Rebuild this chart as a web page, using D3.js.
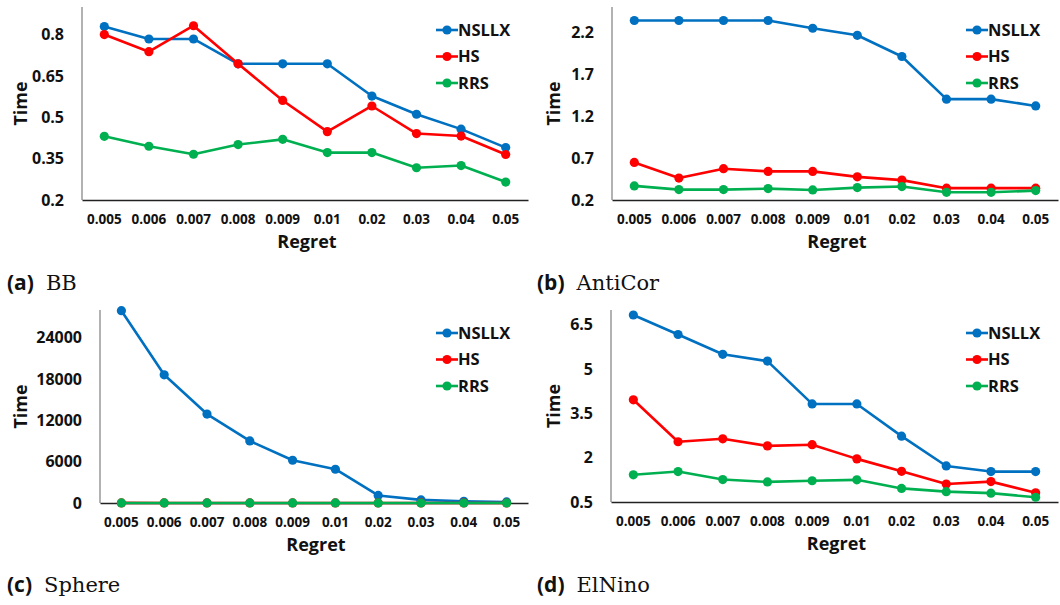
<!DOCTYPE html>
<html>
<head>
<meta charset="utf-8">
<script src="https://cdn.jsdelivr.net/npm/d3@7"></script>
<style>
  body { margin: 0; background: #fff; }
  text { font-family: "Open Sans", sans-serif; font-weight: bold; fill: #111; }
  .caption-tag { font-family: "Open Sans", sans-serif; font-weight: bold; font-size: 21px; }
  .caption-name { font-family: "DejaVu Serif", "Liberation Serif", serif; font-weight: normal; font-size: 21px; }
</style>
</head>
<body>
<script>
// regret categories shared by all four panels
var regrets = ["0.005", "0.006", "0.007", "0.008", "0.009", "0.01", "0.02", "0.03", "0.04", "0.05"];
var seriesNames = ["NSLLX", "HS", "RRS"];
var seriesColors = ["#0070C0", "#FF0000", "#00B050"];

// (a) BB
var bbNSLLX = [0.829, 0.784, 0.784, 0.694, 0.694, 0.694, 0.577, 0.511, 0.457, 0.390];
var bbHS    = [0.800, 0.738, 0.832, 0.694, 0.561, 0.448, 0.541, 0.441, 0.432, 0.365];
var bbRRS   = [0.431, 0.395, 0.366, 0.401, 0.420, 0.372, 0.372, 0.317, 0.325, 0.265];
var bbTicks = [0.2, 0.35, 0.5, 0.65, 0.8];

// (b) AntiCor
var acNSLLX = [2.339, 2.339, 2.339, 2.339, 2.247, 2.163, 1.910, 1.402, 1.402, 1.321];
var acHS    = [0.648, 0.461, 0.573, 0.541, 0.541, 0.476, 0.437, 0.341, 0.341, 0.341];
var acRRS   = [0.368, 0.324, 0.324, 0.336, 0.320, 0.348, 0.360, 0.292, 0.292, 0.312];
var acTicks = [0.2, 0.7, 1.2, 1.7, 2.2];

// (c) Sphere
var spNSLLX = [27900, 18600, 12900, 9000, 6200, 4900, 1100, 450, 250, 150];
var spHS    = [12, 10, 9, 8, 7, 6, 5, 4, 4, 3];
var spRRS   = [10, 9, 8, 7, 6, 5, 4, 3, 3, 2];
var spTicks = [0, 6000, 12000, 18000, 24000];

// (d) ElNino
var enNSLLX = [6.83, 6.17, 5.50, 5.27, 3.82, 3.82, 2.73, 1.72, 1.53, 1.53];
var enHS    = [3.96, 2.54, 2.64, 2.40, 2.44, 1.96, 1.54, 1.11, 1.19, 0.81];
var enRRS   = [1.42, 1.53, 1.26, 1.18, 1.22, 1.25, 0.96, 0.85, 0.80, 0.66];
var enTicks = [0.5, 2, 3.5, 5, 6.5];

var svg = d3.select("body").append("svg")
    .attr("width", 1060)
    .attr("height", 605);

var panels = [
    { ox: 0,   oy: 0,   left: 82,  top: 7,  bottom: 200, right: 528, domain: [0.2, 0.9], ticks: bbTicks,
      series: [bbNSLLX, bbHS, bbRRS], tag: "(a)", name: "BB", legendY: 30, timeX: 21, capY: 290 },
    { ox: 530, oy: 0,   left: 82,  top: 7,  bottom: 200, right: 528, domain: [0.2, 2.5], ticks: acTicks,
      series: [acNSLLX, acHS, acRRS], tag: "(b)", name: "AntiCor", legendY: 30, timeX: 24, capY: 290 },
    { ox: 0,   oy: 295, left: 100, top: 15, bottom: 208, right: 528, domain: [0, 28000], ticks: spTicks,
      series: [spNSLLX, spHS, spRRS], tag: "(c)", name: "Sphere", legendY: 38, timeX: 21, capY: 297 },
    { ox: 530, oy: 295, left: 81,  top: 15, bottom: 207, right: 528, domain: [0.5, 7], ticks: enTicks,
      series: [enNSLLX, enHS, enRRS], tag: "(d)", name: "ElNino", legendY: 38, timeX: 24, capY: 297 }
];

panels.forEach(function (p) {
    var g = svg.append("g").attr("transform", `translate(${p.ox}, ${p.oy})`);

    var x = d3.scaleBand()
        .domain(regrets)
        .range([p.left, p.right]);

    var y = d3.scaleLinear()
        .domain(p.domain)
        .range([p.bottom, p.top]);

    // y axis: labels only, line drawn separately in grey
    var yAxis = g.append("g")
        .attr("transform", `translate(${p.left}, 0)`)
        .call(d3.axisLeft(y).tickValues(p.ticks).tickSize(0).tickPadding(18).tickFormat(d => String(d)));
    yAxis.select(".domain").remove();
    yAxis.selectAll("text").style("font-size", "16px").style("font-family", "'Open Sans', sans-serif");
    g.append("line")
        .attr("x1", p.left).attr("x2", p.left)
        .attr("y1", p.top).attr("y2", p.bottom)
        .attr("stroke", "#7f7f7f").attr("stroke-width", 1.2);

    // x axis
    var xAxis = g.append("g")
        .attr("transform", `translate(0, ${p.bottom})`)
        .call(d3.axisBottom(x).tickSize(0).tickPadding(14));
    xAxis.select(".domain").attr("stroke", "#222").attr("stroke-width", 1.3);
    xAxis.selectAll("text").style("font-size", "13.5px").style("font-family", "'Open Sans', sans-serif");

    // axis titles
    g.append("text")
        .attr("x", (p.left + p.right) / 2 + 2)
        .attr("y", p.bottom + 48)
        .attr("text-anchor", "middle")
        .style("font-size", "18px")
        .text("Regret");

    g.append("text")
        .attr("transform", `translate(${p.timeX}, ${(p.top + p.bottom) / 2}) rotate(-90)`)
        .attr("text-anchor", "middle")
        .attr("dy", "0.35em")
        .style("font-size", "18px")
        .text("Time");

    var line = d3.line()
        .x((d, i) => x(regrets[i]) + x.bandwidth() / 2)
        .y(d => y(d));

    // series order as in the legend, RRS ends on top
    [0, 1, 2].forEach(function (s) {
        var vals = p.series[s];
        g.append("path")
            .datum(vals)
            .attr("fill", "none")
            .attr("stroke", seriesColors[s])
            .attr("stroke-width", 2.6)
            .attr("stroke-linejoin", "round")
            .attr("d", line);

        g.selectAll(".pt" + s)
            .data(vals)
            .enter()
            .append("circle")
            .attr("cx", (d, i) => x(regrets[i]) + x.bandwidth() / 2)
            .attr("cy", d => y(d))
            .attr("r", 4.6)
            .attr("fill", seriesColors[s]);
    });

    // legend
    var leg = g.append("g").attr("transform", `translate(436, ${p.legendY})`);
    seriesNames.forEach(function (name, i) {
        var row = leg.append("g").attr("transform", `translate(0, ${i * 26.5})`);
        row.append("line")
            .attr("x1", 0).attr("x2", 22)
            .attr("stroke", seriesColors[i]).attr("stroke-width", 2.6);
        row.append("circle")
            .attr("cx", 11).attr("r", 4.6)
            .attr("fill", seriesColors[i]);
        row.append("text")
            .attr("x", 22)
            .attr("dy", "0.36em")
            .style("font-size", "16.5px")
            .text(name);
    });

    // sub caption
    var cap = g.append("text")
        .attr("x", 7)
        .attr("y", p.capY);
    cap.append("tspan").attr("class", "caption-tag").text(p.tag);
    cap.append("tspan").attr("class", "caption-name").attr("dx", 12).text(p.name);
});
</script>
</body>
</html>
